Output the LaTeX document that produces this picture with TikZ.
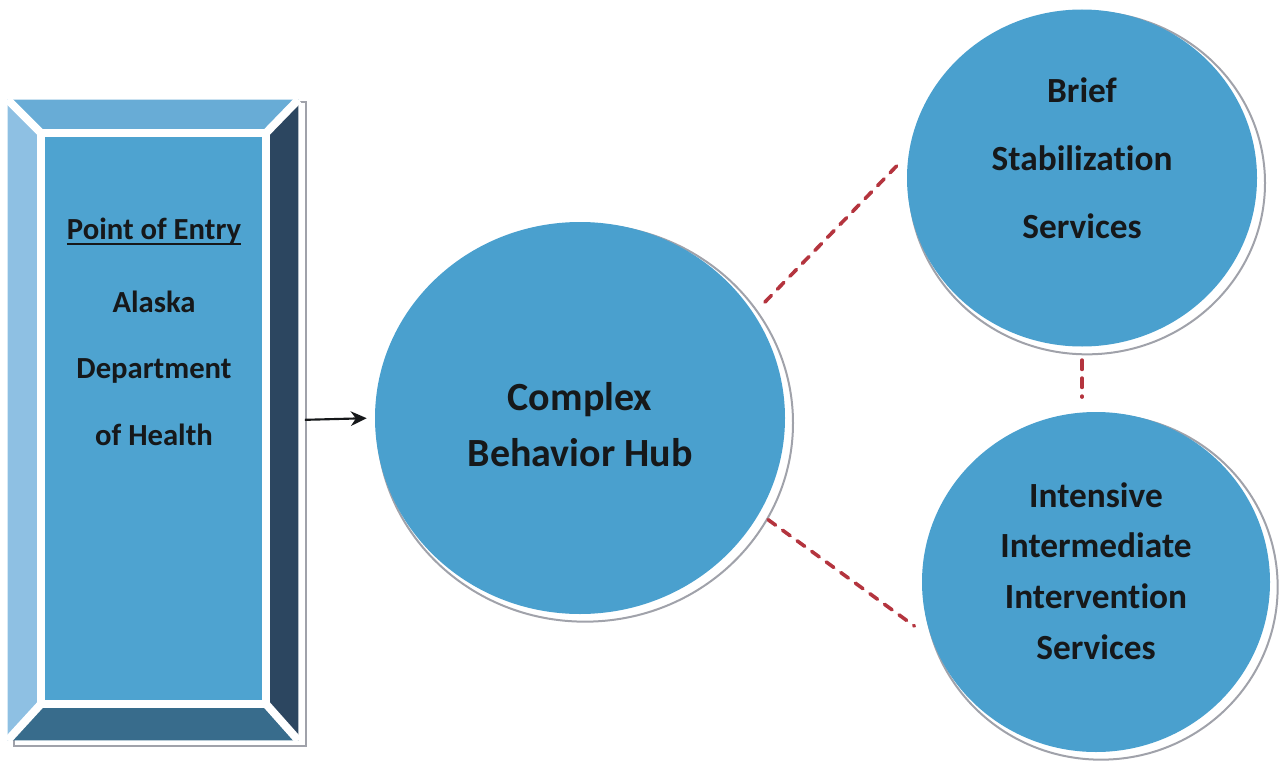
\documentclass[tikz,border=0pt]{standalone}
\usepackage{fontspec}
\setmainfont{Carlito}[Ligatures=NoCommon]
\usetikzlibrary{shapes.geometric,arrows.meta}
\definecolor{bubbleblue}{RGB}{74,160,206}
\definecolor{faceblue}{RGB}{78,163,208}
\definecolor{topbevel}{RGB}{104,172,214}
\definecolor{leftbevel}{RGB}{142,192,227}
\definecolor{rightbevel}{RGB}{44,70,96}
\definecolor{bottombevel}{RGB}{56,108,140}
\definecolor{ringgray}{RGB}{160,162,170}
\definecolor{linkred}{RGB}{180,52,62}
\definecolor{textdark}{RGB}{22,24,26}
\newcommand{\thickul}[1]{\setbox0\hbox{#1}\rlap{\rule[-4pt]{\wd0}{1.8pt}}\box0}
\begin{document}
\begin{tikzpicture}[
        x = 0.75pt, y = -0.75pt,
        bubble/.style = {ellipse, fill=bubbleblue, inner sep=0pt},
        ring/.style = {ellipse, fill=white, draw=ringgray, line width=1.5pt, inner sep=0pt},
        txt/.style = {align=center, text=textdark, font=\bfseries},
        gap/.style = {draw=white, line width=6pt},
        link/.style = {draw=linkred, line width=2.7pt, dash pattern=on 7pt off 6.5pt, line cap=round},
        arr/.style = {-{Stealth[length=12pt,width=11pt]}, line width=1.6pt, textdark}
    ]
    \useasboundingbox (0,0) rectangle (1285,767);
    %--- Draw Entry Box ---%
        \node (entrysh) [draw=ringgray, fill=white, line width=1pt, minimum width=219pt, minimum height=483pt, inner sep=0pt] at (160,424) {};
        \node (entry) [minimum width=217.5pt, minimum height=480pt, inner sep=0pt] at (153,420) {};
        \node (face) [minimum width=168.75pt, minimum height=428.25pt, inner sep=0pt] at (153.5,418.5) {};
        \fill[topbevel] (entry.north west) -- (entry.north east) -- (face.north east) -- (face.north west) -- cycle;
        \fill[leftbevel] (entry.north west) -- (face.north west) -- (face.south west) -- (entry.south west) -- cycle;
        \fill[rightbevel] (entry.north east) -- (entry.south east) -- (face.south east) -- (face.north east) -- cycle;
        \fill[bottombevel] (entry.south west) -- (face.south west) -- (face.south east) -- (entry.south east) -- cycle;
        \draw[gap, fill=faceblue] (face.north west) rectangle (face.south east);
        \draw[gap] (entry.north west) -- (face.north west);
        \draw[gap] (entry.north east) -- (face.north east);
        \draw[gap] (entry.south west) -- (face.south west);
        \draw[gap] (entry.south east) -- (face.south east);
        \node (entrytext) [txt, font=\bfseries\fontsize{23}{50}\selectfont] at (154,332)
            {\thickul{Point of Entry}\\[4.5pt]Alaska\\Department\\of Health};
    %--- Draw Bubbles ---%
        \node (hubsh) [ring, minimum width=312pt, minimum height=298pt] at (585,423) {};
        \node (briefsh) [ring, minimum width=267pt, minimum height=257pt] at (1087,183) {};
        \node (intenssh) [ring, minimum width=265pt, minimum height=259pt] at (1101,587) {};
        \node (hub) [bubble, minimum width=307.5pt, minimum height=294pt] at (580,418) {};
        \node (brief) [bubble, minimum width=262.5pt, minimum height=252.75pt] at (1082,178) {};
        \node (intens) [bubble, minimum width=261pt, minimum height=255pt] at (1096,582) {};
        \node (hubtext) [txt, font=\bfseries\fontsize{30}{42}\selectfont] at (580,425)
            {Complex\\Behavior Hub};
        \node (brieftext) [txt, font=\bfseries\fontsize{26.5}{51}\selectfont] at (1082,158)
            {Brief\\Stabilization\\Services};
        \node (intenstext) [txt, font=\bfseries\fontsize{26.5}{38}\selectfont] at (1096,571)
            {Intensive\\Intermediate\\Intervention\\Services};
    %--- Draw Links ---%
        \draw[arr, shorten <=5pt, shorten >=6pt] (entry.east) -- (hub.west);
        \draw[link, shorten <=12pt, shorten >=11.5pt] (hub.31) -- (brief.172);
        \draw[link, shorten <=8pt, shorten >=16pt] (hub.-28) -- (intens.199);
        \draw[link, shorten <=10pt, shorten >=11pt] (brief.south) -- (brief.south |- intens.north);
    \end{tikzpicture}
\end{document}
